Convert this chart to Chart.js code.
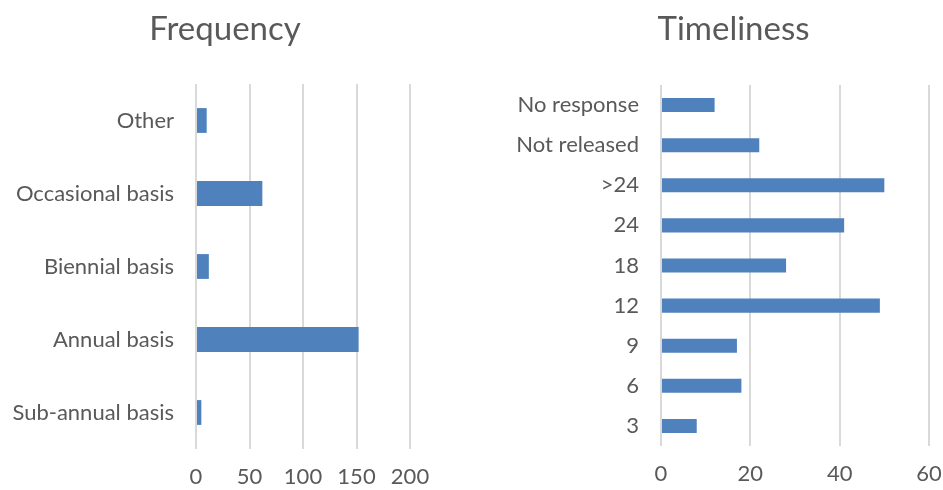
<!DOCTYPE html>
<html>
<head>
<meta charset="utf-8">
<title>Frequency / Timeliness</title>
<script src="https://cdn.jsdelivr.net/npm/chart.js@4"></script>
<style>
  html, body { margin: 0; padding: 0; background: #fff; }
  #wrap { position: relative; width: 943px; height: 490px; overflow: hidden; }
  #freqChart { position: absolute; left: 0; top: 0; }
  #timeChart { position: absolute; left: 470px; top: 0; }
</style>
</head>
<body>
<div id="wrap">
  <canvas id="freqChart" width="470" height="490"></canvas>
  <canvas id="timeChart" width="473" height="490"></canvas>
</div>
<script>
/* ---- data (top to bottom, as in the picture) ---- */
const freqLabels = ['Other', 'Occasional basis', 'Biennial basis', 'Annual basis', 'Sub-annual basis'];
const freqValues = [10, 62, 12, 152, 5];
const freqTicks  = { min: 0, max: 200, step: 50 };

const timeLabels = ['No response', 'Not released', '>24', '24', '18', '12', '9', '6', '3'];
const timeValues = [12, 22, 50, 41, 28, 49, 17, 18, 8];
const timeTicks  = { min: 0, max: 60, step: 20 };

const FONT  = 'Lato, "Open Sans", sans-serif';
const GREY  = '#595959';
const BLUE  = '#4f81bd';
const GRID  = '#d9d9d9';
const TITLE_SIZE = 33;

Chart.defaults.font.family = FONT;
Chart.defaults.color = GREY;

// moves the title so it sits centred on a given x (px inside the canvas)
const titleShift = {
  id: 'titleShift',
  afterLayout(chart, args, opts) {
    const t = chart.titleBlock;
    if (!t || opts.center == null) return;
    const half = (t.right - t.left) / 2;
    t.left = opts.center - half;
    t.right = opts.center + half;
  }
};

// one horizontal bar chart; box = fixed layout numbers in px
function makeBarChart(id, title, labels, values, ticks, box) {
  const ctx = document.getElementById(id).getContext('2d');
  return new Chart(ctx, {
    type: 'bar',
    data: {
      labels,
      datasets: [{ data: values, backgroundColor: BLUE, barPercentage: box.bar, categoryPercentage: 1 }]
    },
    plugins: [titleShift],
    options: {
      indexAxis: 'y',
      responsive: false,
      animation: false,
      layout: { padding: { left: 0, right: box.padR, top: 0, bottom: 0 } },
      plugins: {
        legend: { display: false },
        tooltip: { enabled: false },
        titleShift: { center: box.titleX },
        title: {
          display: true, text: title, color: GREY,
          font: { size: TITLE_SIZE, weight: 'normal' },
          padding: { top: 10, bottom: box.top - 10 - TITLE_SIZE * 1.2 }
        }
      },
      scales: {
        x: {
          min: ticks.min, max: ticks.max,
          ticks: { stepSize: ticks.step, padding: 0, font: { size: 22 } },
          grid: { color: GRID, lineWidth: 2, drawTicks: true, tickLength: 15, tickColor: 'rgba(0,0,0,0)' },
          border: { display: false },
          afterFit: s => { s.height = box.xh; }
        },
        y: {
          ticks: { padding: 22, font: { size: 22 } },
          grid: { display: false, drawTicks: false },
          border: { display: false },
          afterFit: s => { s.width = box.yw; }
        }
      }
    }
  });
}

makeBarChart('freqChart', 'Frequency', freqLabels, freqValues, freqTicks,
  { padR: 60, yw: 196, titleX: 225, top: 84, xh: 41, bar: 0.34 });

makeBarChart('timeChart', 'Timeliness', timeLabels, timeValues, timeTicks,
  { padR: 14, yw: 191, titleX: 263.5, top: 85, xh: 44, bar: 0.35 });
</script>
</body>
</html>
